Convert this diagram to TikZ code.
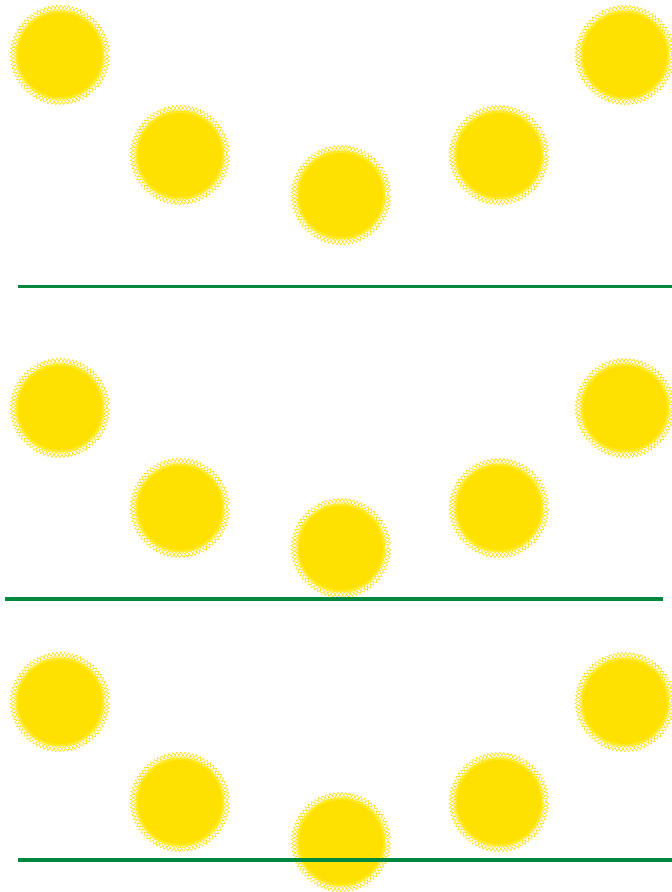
\documentclass[tikz,border=0pt]{standalone}
\usetikzlibrary{decorations.pathmorphing}
\definecolor{sunfill}{RGB}{255,225,0}
\definecolor{sunring}{RGB}{255,234,40}
\definecolor{sunedge}{RGB}{255,221,0}
\definecolor{groundgreen}{RGB}{0,135,62}
\tikzset{
  sunbody/.style={fill=sunfill},
  sunhalo/.style={draw=sunring, line width=3pt},
  sunzig/.style={draw=sunedge, line width=0.55pt, decorate,
    decoration={zigzag, segment length=7.6pt, amplitude=2.8pt}},
  sunzigm/.style={draw=sunedge, line width=0.55pt, decorate,
    decoration={zigzag, segment length=7.6pt, amplitude=2.8pt, mirror}},
  ground/.style={draw=groundgreen, line width=3.4pt}
}
\begin{document}
\begin{tikzpicture}[x=1pt,y=-1pt]
\useasboundingbox (0,0) rectangle (672,892);
% suns
\foreach \r/\dy in {1/0,2/353,3/647}{
  \foreach \i/\cx/\cy in {a/60/55,b/180/155,c/341/195,d/499/155,e/625/55}{
    \coordinate (s\r\i) at (\cx,\cy+\dy);
    \path[sunzig] (s\r\i) circle (47);
    \path[sunzigm] (s\r\i) circle (47);
    \path[sunhalo] (s\r\i) circle (43);
    \path[sunbody] (s\r\i) circle (42);
  }
}
% ground lines
\coordinate (g1a) at (18,286.5);
\coordinate (g1b) at (672,286.5);
\coordinate (g2a) at (5,599);
\coordinate (g2b) at (663,599);
\coordinate (g3a) at (18,860);
\coordinate (g3b) at (672,860);
\draw[ground] (g1a) -- (g1b);
\draw[ground] (g2a) -- (g2b);
\draw[ground] (g3a) -- (g3b);
\end{tikzpicture}
\end{document}
